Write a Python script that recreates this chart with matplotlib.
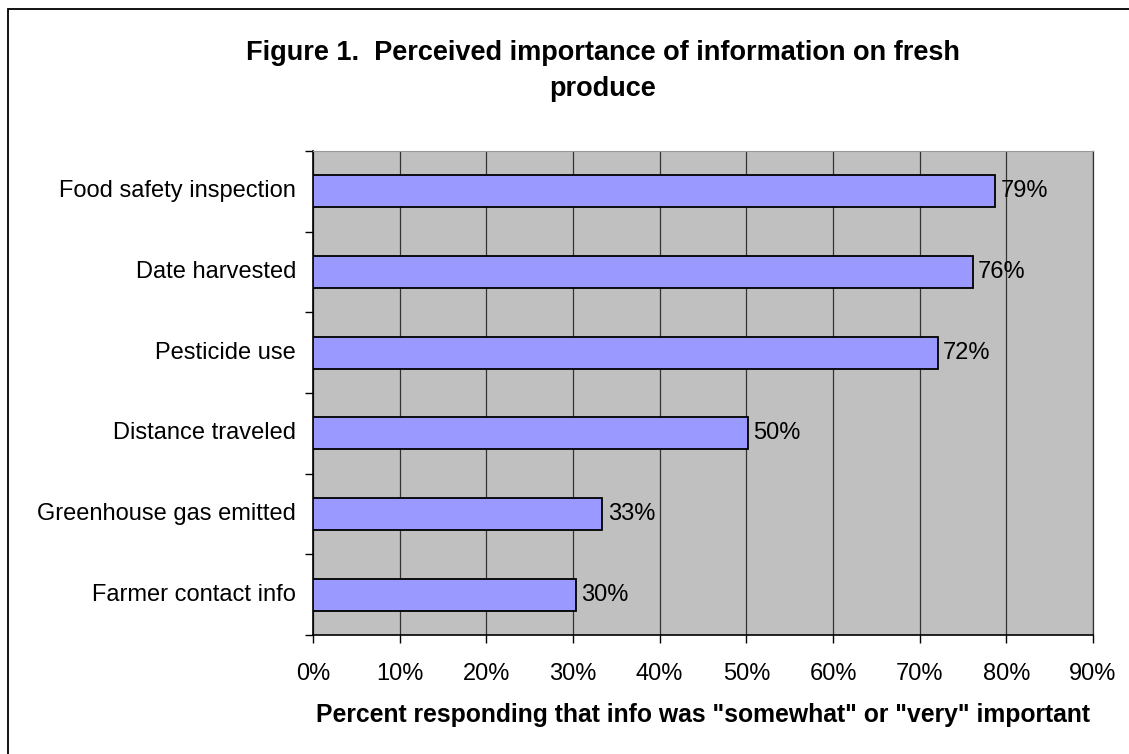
import matplotlib
matplotlib.use("Agg")
import matplotlib.pyplot as plt
from matplotlib.patches import Rectangle
import numpy as np

plt.rcParams['font.family'] = ['Liberation Sans', 'DejaVu Sans']

categories = ["Food safety inspection", "Date harvested", "Pesticide use",
              "Distance traveled", "Greenhouse gas emitted", "Farmer contact info"]
values = [78.7, 76.1, 72.1, 50.2, 33.4, 30.3]
xticks = [0, 10, 20, 30, 40, 50, 60, 70, 80, 90]
xticklabels = [f"{t}%" for t in xticks]

W, H = 1129, 754
fig = plt.figure(figsize=(W/100, H/100), dpi=100)
# outer chart border
fig.patches.append(Rectangle((8/W, -0.05), 1.2, 1 - 9/H + 0.05, transform=fig.transFigure,
                             fill=False, edgecolor='black', linewidth=1.3, zorder=0))

left, right, top, bottom = 313, 1093, 151, 635
ax = fig.add_axes([left/W, 1 - bottom/H, (right-left)/W, (bottom-top)/H])
ax.set_facecolor('#C0C0C0')

fs = 17
n = len(categories)
ypos = np.arange(n)[::-1]
ax.barh(ypos, values, height=0.4, color='#9999FF', edgecolor='black', linewidth=1.3, zorder=3)
for y, v in zip(ypos, values):
    ax.text(v + 0.6, y, f"{round(v)}%", va='center', ha='left', fontsize=fs, zorder=4)

ax.set_xlim(0, 90)
ax.set_ylim(-0.5, n - 0.5)
ax.set_xticks(xticks)
ax.set_xticklabels(xticklabels, fontsize=fs)
ax.xaxis.grid(True, color='#333333', linewidth=0.9, zorder=1)
ax.set_axisbelow(True)

# category labels (no tick marks) + boundary ticks
ax.set_yticks(np.arange(-0.5, n, 1.0))
ax.set_yticklabels([])
ax.tick_params(axis='y', length=6, width=1, direction='out')
ax.tick_params(axis='x', length=6, width=1, direction='out', pad=14)
for y, c in zip(ypos, categories):
    ax.text(-17 / (right-left) * 90, y, c, ha='right', va='center', fontsize=fs)

for s in ['left', 'bottom']:
    ax.spines[s].set_color('black')
    ax.spines[s].set_linewidth(1.2)
ax.spines['top'].set_color('#999999')
ax.spines['right'].set_color('#333333')
ax.spines['right'].set_linewidth(0.9)

ax.set_xlabel('Percent responding that info was "somewhat" or "very" important',
              fontsize=17.8, fontweight='bold', labelpad=13)

fig.text(603/W, 1 - 71/H, "Figure 1.  Perceived importance of information on fresh\nproduce",
         ha='center', va='center', fontsize=19.5, fontweight='bold', linespacing=1.45)

fig.savefig("out.png", dpi=100)
